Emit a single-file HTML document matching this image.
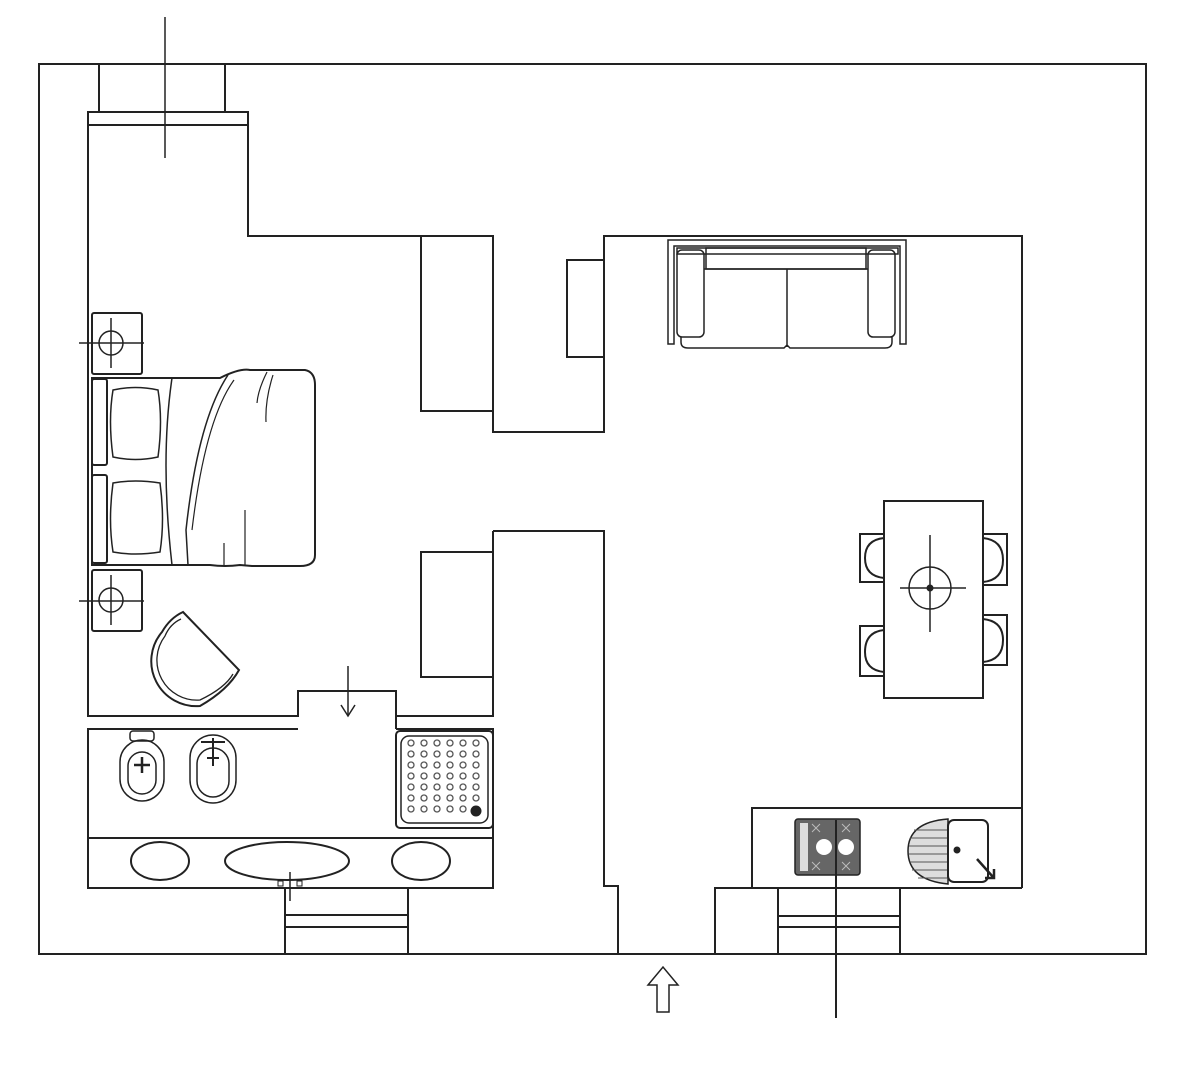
<!DOCTYPE html>
<html><head><meta charset="utf-8"><style>html,body{margin:0;padding:0;background:#fff}svg{display:block}</style></head>
<body>
<svg width="1186" height="1080" viewBox="0 0 1186 1080" xmlns="http://www.w3.org/2000/svg" fill="none" stroke="#222" stroke-width="2">
<rect x="39" y="64" width="1107" height="890"/>
<line x1="99" y1="64" x2="99" y2="112"/><line x1="225" y1="64" x2="225" y2="112"/>
<rect x="88" y="112" width="160" height="13"/>
<line x1="165" y1="17" x2="165" y2="158" stroke-width="1.5"/>
<polyline points="88,125 88,716 298,716 298,691 396,691 396,729"/>
<polyline points="248,125 248,236 493,236 493,432 604,432 604,236 1022,236 1022,888"/>
<rect x="421" y="236" width="72" height="175"/>
<rect x="567" y="260" width="37" height="97"/>
<polyline points="493,531 493,716 396,716"/>
<rect x="421" y="552" width="72" height="125"/>
<polyline points="493,531 604,531 604,886 618,886 618,954"/>
<line x1="348" y1="666" x2="348" y2="716" stroke-width="1.5"/>
<polyline points="341,705 348,716 355,705" stroke-width="1.5"/>
<polyline points="298,729 88,729 88,888 493,888 493,729 396,729"/>
<line x1="88" y1="838" x2="493" y2="838"/>
<line x1="285" y1="888" x2="285" y2="954"/><line x1="408" y1="888" x2="408" y2="954"/>
<line x1="285" y1="915" x2="408" y2="915"/><line x1="285" y1="927" x2="408" y2="927"/>
<ellipse cx="160" cy="861" rx="29" ry="19"/>
<ellipse cx="287" cy="861" rx="62" ry="19"/>
<ellipse cx="421" cy="861" rx="29" ry="19"/>
<line x1="290" y1="872" x2="290" y2="901" stroke-width="1.5"/>
<rect x="278" y="881" width="5" height="5" stroke-width="1"/><rect x="297" y="881" width="5" height="5" stroke-width="1"/>
<rect x="130" y="731" width="24" height="10" rx="3" stroke-width="1.5"/>
<rect x="120" y="740" width="44" height="61" rx="22" stroke-width="1.5"/>
<rect x="128" y="752" width="28" height="42" rx="14" stroke-width="1.5"/>
<path d="M134,765 h16 M142,757 v16" stroke-width="2.5"/>
<rect x="190" y="735" width="46" height="68" rx="23" stroke-width="1.5"/>
<rect x="197" y="748" width="32" height="49" rx="16" stroke-width="1.5"/>
<path d="M201,742 h24 M213,738 v28 M207,758 h12" stroke-width="2"/>
<rect x="396" y="731" width="97" height="97" rx="4" stroke-width="2"/>
<rect x="401" y="736" width="87" height="87" rx="8" stroke-width="1.5"/>
<g stroke="#555" stroke-width="1.3">
<circle cx="411" cy="743" r="3"/><circle cx="424" cy="743" r="3"/><circle cx="437" cy="743" r="3"/><circle cx="450" cy="743" r="3"/><circle cx="463" cy="743" r="3"/><circle cx="476" cy="743" r="3"/>
<circle cx="411" cy="754" r="3"/><circle cx="424" cy="754" r="3"/><circle cx="437" cy="754" r="3"/><circle cx="450" cy="754" r="3"/><circle cx="463" cy="754" r="3"/><circle cx="476" cy="754" r="3"/>
<circle cx="411" cy="765" r="3"/><circle cx="424" cy="765" r="3"/><circle cx="437" cy="765" r="3"/><circle cx="450" cy="765" r="3"/><circle cx="463" cy="765" r="3"/><circle cx="476" cy="765" r="3"/>
<circle cx="411" cy="776" r="3"/><circle cx="424" cy="776" r="3"/><circle cx="437" cy="776" r="3"/><circle cx="450" cy="776" r="3"/><circle cx="463" cy="776" r="3"/><circle cx="476" cy="776" r="3"/>
<circle cx="411" cy="787" r="3"/><circle cx="424" cy="787" r="3"/><circle cx="437" cy="787" r="3"/><circle cx="450" cy="787" r="3"/><circle cx="463" cy="787" r="3"/><circle cx="476" cy="787" r="3"/>
<circle cx="411" cy="798" r="3"/><circle cx="424" cy="798" r="3"/><circle cx="437" cy="798" r="3"/><circle cx="450" cy="798" r="3"/><circle cx="463" cy="798" r="3"/><circle cx="476" cy="798" r="3"/>
<circle cx="411" cy="809" r="3"/><circle cx="424" cy="809" r="3"/><circle cx="437" cy="809" r="3"/><circle cx="450" cy="809" r="3"/><circle cx="463" cy="809" r="3"/>
</g>
<circle cx="476" cy="811" r="4.5" fill="#222"/>
<rect x="92" y="313" width="50" height="61" rx="2"/>
<circle cx="111" cy="343" r="12" stroke-width="1.5"/>
<path d="M79,343 h65 M111,318 v50" stroke-width="1.5"/>
<rect x="92" y="570" width="50" height="61" rx="2"/>
<circle cx="111" cy="600" r="12" stroke-width="1.5"/>
<path d="M79,601 h65 M111,575 v50" stroke-width="1.5"/>
<path d="M92,378 H220 Q240,368 250,370 H305 Q315,372 315,385 V555 Q315,566 300,566 H252 L240,565 Q225,567 210,565 H92 Z" stroke-width="2"/>
<rect x="92" y="379" width="15" height="86" rx="2" stroke-width="2"/>
<rect x="92" y="475" width="15" height="88" rx="2" stroke-width="2"/>
<path d="M113,390 Q135,385 158,390 Q163,420 158,457 Q135,462 113,457 Q108,420 113,390 Z" stroke-width="1.5"/>
<path d="M113,483 Q135,479 160,483 Q165,520 160,552 Q135,556 113,552 Q108,520 113,483 Z" stroke-width="1.5"/>
<path d="M172,378 Q160,460 172,565" stroke-width="1.5"/>
<path d="M228,375 Q198,420 186,530 L188,565" stroke-width="1.5"/>
<path d="M234,380 Q205,420 192,530" stroke-width="1.2"/>
<path d="M267,372 Q258,390 257,403 M273,375 Q265,400 266,422" stroke-width="1.2"/>
<path d="M245,510 V565 M224,543 V565" stroke-width="1.2"/>
<path d="M183,612 L239,670 Q228,690 200,706 A45,45 0 0 1 162,632 Q170,618 183,612 Z" stroke-width="2"/>
<path d="M181,619 Q170,624 165,636 A40,40 0 0 0 200,700 Q225,688 233,674" stroke-width="1.3"/>
<path d="M668,240 H906 V344 H900 V246 H674 V344 H668 Z" stroke-width="1.5"/>
<rect x="677" y="248" width="221" height="6" stroke-width="1.5"/>
<rect x="677" y="250" width="27" height="87" rx="5" stroke-width="1.5"/>
<rect x="868" y="250" width="27" height="87" rx="5" stroke-width="1.5"/>
<rect x="706" y="248" width="160" height="21" stroke-width="1.5"/>
<path d="M704,269 H868 M787,269 V347 M681,337 V342 Q681,348 688,348 H784 L787,345 L790,348 H885 Q892,348 892,342 V337" stroke-width="1.5"/>
<rect x="884" y="501" width="99" height="197"/>
<circle cx="930" cy="588" r="21" stroke-width="1.5"/>
<path d="M900,588 H966 M930,535 V632" stroke-width="1.5"/>
<circle cx="930" cy="588" r="2.5" fill="#222"/>
<path d="M884,534 H860 V582 H884 M884,538 Q865,540 865,558 Q865,576 884,578" stroke-width="2"/>
<path d="M884,626 H860 V676 H884 M884,630 Q865,632 865,652 Q865,670 884,672" stroke-width="2"/>
<path d="M983,534 H1007 V585 H983 M983,538 Q1003,540 1003,560 Q1003,580 983,582" stroke-width="2"/>
<path d="M983,615 H1007 V665 H983 M983,619 Q1003,621 1003,640 Q1003,660 983,662" stroke-width="2"/>
<polyline points="1022,808 752,808 752,888 1022,888"/>
<polyline points="715,954 715,888 752,888"/>
<line x1="778" y1="888" x2="778" y2="954"/><line x1="900" y1="888" x2="900" y2="954"/>
<line x1="778" y1="916" x2="900" y2="916"/><line x1="778" y1="927" x2="900" y2="927"/>
<rect x="795" y="819" width="65" height="56" rx="3" fill="#666" stroke-width="1.5"/>
<rect x="800" y="823" width="8" height="48" fill="#ddd" stroke="none"/>
<g stroke="#bbb" stroke-width="1"><path d="M812,824 l8,8 M820,824 l-8,8 M842,824 l8,8 M850,824 l-8,8 M812,862 l8,8 M820,862 l-8,8 M842,862 l8,8 M850,862 l-8,8"/></g>
<circle cx="824" cy="847" r="8" fill="#fff" stroke="none"/><circle cx="846" cy="847" r="8" fill="#fff" stroke="none"/>
<line x1="836" y1="820" x2="836" y2="1018" stroke-width="2"/>
<path d="M948,819 V884 Q908,880 908,851 Q908,822 948,819 Z" fill="#ddd" stroke-width="1.5"/>
<g stroke="#555" stroke-width="1"><path d="M914,830 H948 M910,838 H948 M909,846 H948 M909,854 H948 M910,862 H948 M912,870 H948 M918,878 H948"/></g>
<rect x="948" y="820" width="40" height="62" rx="6" stroke-width="2"/>
<circle cx="957" cy="850" r="2.5" fill="#222"/>
<path d="M977,859 L993,877 M985,878 L994,878 L994,869" stroke-width="2.5"/>
<path d="M657,1012 H669 V985 H678 L663,967 L648,985 H657 Z" stroke-width="1.5"/>
</svg>
</body></html>
